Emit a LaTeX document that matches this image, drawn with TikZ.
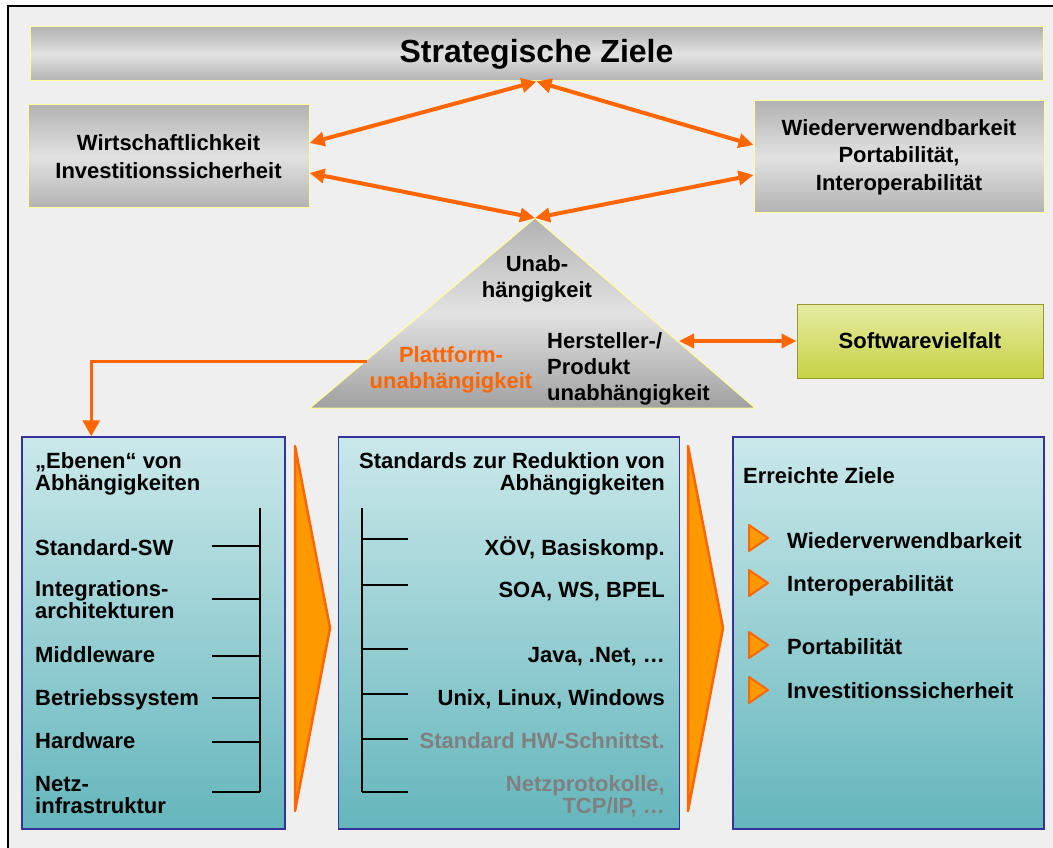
\documentclass[tikz,border=0pt]{standalone}
\usepackage{fontspec}
\setmainfont{Liberation Sans}
\usetikzlibrary{arrows.meta,positioning}
\definecolor{zorange}{HTML}{FF6600}
\definecolor{zamber}{HTML}{FF9900}
\definecolor{zbg}{HTML}{EFEFEF}
\definecolor{zgraydark}{HTML}{B2B2B2}
\definecolor{zgraylight}{HTML}{E2E2E2}
\definecolor{zpale}{HTML}{FFFF99}
\definecolor{ztealtop}{HTML}{CAE8EA}
\definecolor{ztealbot}{HTML}{64B6BC}
\definecolor{zblue}{HTML}{333399}
\definecolor{zgreentop}{HTML}{E6ECA2}
\definecolor{zgreenbot}{HTML}{C6D246}
\definecolor{zolive}{HTML}{9A9A2A}
\definecolor{zgraytext}{HTML}{808080}
\newcommand{\txtup}{\fontsize{22}{27.5}\selectfont\bfseries}
\newcommand{\txttri}{\fontsize{22}{26}\selectfont\bfseries}
\newcommand{\txtlow}{\fontsize{22}{22}\selectfont\bfseries}

\begin{document}
\begin{tikzpicture}[x=1pt, y=-1pt,
    graybox/.style={draw=zpale, line width=1pt, top color=zgraydark,
                    bottom color=zgraydark, middle color=zgraylight,
                    align=center, font=\txtup, inner sep=0pt},
    greenbox/.style={draw=zolive, line width=1pt, top color=zgreentop,
                     bottom color=zgreenbot, font=\txtup, inner sep=0pt},
    layerbox/.style={draw=zblue, line width=1.5pt, top color=ztealtop,
                     bottom color=ztealbot, minimum height=392pt, inner sep=0pt},
    itemtxt/.style={font=\txtlow, align=left, inner sep=0pt},
    biarr/.style={{Triangle[length=15pt,width=14pt]}-{Triangle[length=15pt,width=14pt]},
                  line width=4pt, zorange},
    platarr/.style={-{Triangle[length=16pt,width=17pt]}, line width=3pt, zorange},
    chevron/.style={fill=zamber, draw=zorange, line width=2.5pt, line join=round},
    bullet/.style={fill=zamber, draw=zorange, line width=2pt, line join=round},
    tick/.style={line width=1.5pt, black}
]
\useasboundingbox (0,0) rectangle (1053,848);
\fill[zbg] (8,6) rectangle (1053,848);
\draw[line width=1.5pt] (8,848) |- (1053,6);

% goals at the top
\node[graybox, minimum width=1013pt, minimum height=54pt,
      font=\fontsize{32}{38}\selectfont\bfseries] (ziele) at (536.5,54) {Strategische Ziele};
\node[graybox, minimum width=281pt, minimum height=103pt] (wirt) at (168.5,156.5)
    {Wirtschaftlichkeit\\Investitionssicherheit};
\node[graybox, minimum width=290pt, minimum height=112pt] (wieder) at (899,157)
    {Wiederverwendbarkeit\\Portabilität,\\Interoperabilität};

% triangle
\coordinate (apex) at (535,218);
\coordinate (plat) at (367,361);
\coordinate (herst) at (679,341);
\shade[draw=zpale, line width=1pt, top color=zgraydark, bottom color=zgraydark!90!black,
       middle color=zgraylight] (apex) -- (755,408) -- (310,408) -- cycle;
\node[font=\txttri, align=center, anchor=base, inner sep=0pt] (unab) at (537,297)
    {Unab-\\hängigkeit};
\node[font=\txttri, align=center, anchor=base, inner sep=0pt, text=zorange] (plattform)
    at (451,388) {Plattform-\\unabhängigkeit};
\node[font=\txttri, align=left, anchor=base west, inner sep=0pt] (hersteller)
    at (547,400) {Hersteller-/\\Produkt\\unabhängigkeit};

\node[greenbox, minimum width=246pt, minimum height=74pt] (vielfalt) at (920,341)
    {Softwarevielfalt};

\draw[biarr] ([yshift=13.5pt]wirt.east) -- (ziele.south);
\draw[biarr] ([yshift=-16.5pt]wirt.east) -- (apex);
\draw[biarr] ([yshift=12pt]wieder.west) -- (ziele.south);
\draw[biarr] ([yshift=-18pt]wieder.west) -- (apex);
\draw[biarr, line width=3.5pt] (herst) -- (vielfalt.west);

% three columns
\node[layerbox, minimum width=263pt] (ebenen) at (153.5,633) {};
\node[layerbox, minimum width=341pt, right=52pt of ebenen] (standards) {};
\node[layerbox, minimum width=311pt, right=52pt of standards] (erreicht) {};

\draw[platarr] (plat) -| ([xshift=70pt]ebenen.north west);

\draw[chevron] (295,446) -- (330,628) -- (295,811) -- cycle;
\draw[chevron] (688,446) -- (723,628) -- (688,811) -- cycle;

% left column
\node[itemtxt, anchor=base west] (ebhead) at (35,490) {„Ebenen“ von\\Abhängigkeiten};
\foreach \yb/\yt/\txt [count=\i] in {555/546/Standard-SW, 618/599/{Integrations-\\architekturen},
    662/656/Middleware, 705/698/Betriebssystem, 748/742/Hardware, 813/792/{Netz-\\infrastruktur}} {
  \node[itemtxt, anchor=base west] (ebene\i) at (35,\yb) {\txt};
  \draw[tick] (212,\yt) -- (260,\yt);
}
\draw[tick] (260,508) -- (260,792);

% middle column
\node[itemtxt, align=right, anchor=base east] (sthead) at (665,490)
    {Standards zur Reduktion von\\Abhängigkeiten};
\foreach \yb/\yt/\col/\txt [count=\i] in {555/539/black/{XÖV, Basiskomp.},
    597/585/black/{SOA, WS, BPEL}, 662/649/black/{Java, .Net, …},
    705/694/black/{Unix, Linux, Windows}, 748/739/zgraytext/{Standard HW-Schnittst.},
    813/792/zgraytext/{Netzprotokolle,\\TCP/IP, …}} {
  \node[itemtxt, align=right, anchor=base east, text=\col] (std\i) at (665,\yb) {\txt};
  \draw[tick] (362,\yt) -- (408,\yt);
}
\draw[tick] (362,508) -- (362,792);

% right column
\node[itemtxt, anchor=base west] (zhead) at (743,483) {Erreichte Ziele};
\foreach \yb/\yc/\txt [count=\i] in {548/538/Wiederverwendbarkeit, 591/583/Interoperabilität,
    654/645/Portabilität, 698/690/Investitionssicherheit} {
  \draw[bullet] (749,\yc-13) -- (768,\yc) -- (749,\yc+13) -- cycle;
  \node[itemtxt, anchor=base west] (ziel\i) at (787,\yb) {\txt};
}
\end{tikzpicture}
\end{document}
